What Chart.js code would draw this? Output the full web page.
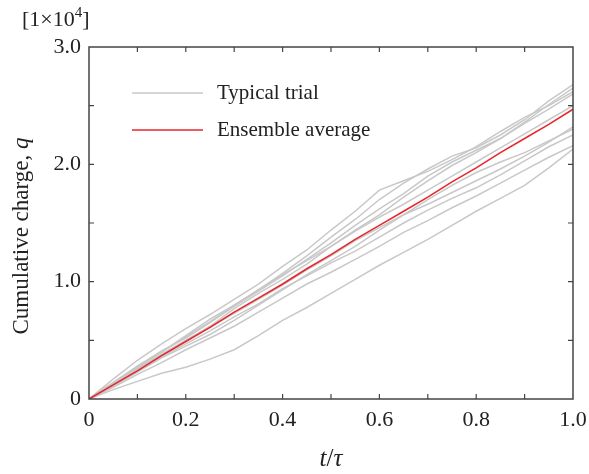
<!DOCTYPE html>
<html>
<head>
<meta charset="utf-8">
<script src="https://cdn.jsdelivr.net/npm/chart.js@4/dist/chart.umd.min.js"></script>
<style>
  html, body { margin: 0; padding: 0; background: #fff; }
  #wrap { width: 589px; height: 474px; }
</style>
</head>
<body>
<div id="wrap"><canvas id="myChart" width="589" height="474"></canvas></div>
<script>
// time axis, t/tau
const tValues = [0, 0.05, 0.1, 0.15, 0.2, 0.25, 0.3, 0.35, 0.4, 0.45, 0.5,
                 0.55, 0.6, 0.65, 0.7, 0.75, 0.8, 0.85, 0.9, 0.95, 1.0];

// typical trials (units of 1e4)
const trialA = [0, 0.17, 0.33, 0.47, 0.60, 0.72, 0.85, 0.98, 1.13, 1.27, 1.44, 1.60, 1.78, 1.86, 1.94, 2.04, 2.15, 2.28, 2.40, 2.50, 2.62];
const trialB = [0, 0.13, 0.27, 0.40, 0.54, 0.68, 0.80, 0.93, 1.07, 1.22, 1.38, 1.53, 1.70, 1.84, 1.96, 2.07, 2.14, 2.25, 2.38, 2.54, 2.68];
const trialC = [0, 0.14, 0.28, 0.41, 0.52, 0.65, 0.79, 0.92, 1.05, 1.19, 1.33, 1.48, 1.62, 1.75, 1.90, 2.02, 2.12, 2.22, 2.36, 2.51, 2.65];
const trialD = [0, 0.12, 0.25, 0.38, 0.50, 0.62, 0.77, 0.90, 1.02, 1.15, 1.30, 1.44, 1.57, 1.72, 1.86, 1.99, 2.10, 2.22, 2.35, 2.47, 2.60];
const trialE = [0, 0.13, 0.26, 0.38, 0.50, 0.61, 0.73, 0.85, 0.97, 1.10, 1.22, 1.35, 1.46, 1.57, 1.66, 1.76, 1.86, 1.96, 2.07, 2.19, 2.32];
const trialF = [0, 0.12, 0.24, 0.36, 0.47, 0.58, 0.70, 0.81, 0.94, 1.05, 1.16, 1.26, 1.38, 1.50, 1.61, 1.71, 1.80, 1.91, 2.03, 2.15, 2.25];
const trialG = [0, 0.10, 0.21, 0.31, 0.42, 0.52, 0.62, 0.74, 0.86, 0.98, 1.08, 1.19, 1.30, 1.42, 1.52, 1.63, 1.73, 1.84, 1.95, 2.06, 2.16];
const trialH = [0, 0.08, 0.15, 0.22, 0.27, 0.34, 0.42, 0.54, 0.67, 0.78, 0.90, 1.02, 1.14, 1.25, 1.36, 1.48, 1.60, 1.71, 1.82, 1.97, 2.13];
const trialI = [0, 0.14, 0.28, 0.40, 0.53, 0.66, 0.80, 0.93, 1.06, 1.18, 1.30, 1.43, 1.55, 1.66, 1.78, 1.90, 2.02, 2.14, 2.26, 2.38, 2.50];
const trialJ = [0, 0.11, 0.23, 0.35, 0.45, 0.55, 0.67, 0.80, 0.93, 1.06, 1.18, 1.30, 1.44, 1.57, 1.70, 1.82, 1.93, 2.02, 2.10, 2.20, 2.30];
const trials = [trialA, trialB, trialC, trialD, trialE, trialF, trialG, trialH, trialI, trialJ];

// ensemble average
const ensembleAvg = [0, 0.12, 0.24, 0.37, 0.49, 0.61, 0.74, 0.86, 0.98, 1.11, 1.23, 1.36, 1.48, 1.60, 1.72, 1.85, 1.97, 2.10, 2.22, 2.34, 2.47];

const xTickLabels = ['0', '0.2', '0.4', '0.6', '0.8', '1.0'];
const yTickLabels = ['0', '1.0', '2.0', '3.0'];

const serif = '"Liberation Serif", "DejaVu Serif", serif';
const gray = '#c8c8c8';
const red = '#e8262c';
const axisColor = '#444';

const toPoints = (arr) => arr.map((v, i) => ({ x: tValues[i], y: v }));

const datasets = [];
datasets.push({
  label: 'Ensemble average',
  data: toPoints(ensembleAvg),
  borderColor: red,
  borderWidth: 1.6,
  pointRadius: 0,
  tension: 0,
  order: 0
});
trials.forEach((arr, i) => {
  datasets.push({
    label: 'Typical trial ' + (i + 1),
    data: toPoints(arr),
    borderColor: gray,
    borderWidth: 1.5,
    pointRadius: 0,
    tension: 0,
    order: 1
  });
});

// frame, inward ticks on all sides, titles and legend
const decorations = {
  id: 'decorations',
  afterDraw(chart) {
    const ctx = chart.ctx;
    const a = chart.chartArea;
    const xs = chart.scales.x;
    const ys = chart.scales.y;
    ctx.save();
    ctx.strokeStyle = axisColor;
    ctx.lineWidth = 1.5;
    ctx.strokeRect(a.left, a.top, a.right - a.left, a.bottom - a.top);

    ctx.lineWidth = 1.2;
    const tickLen = 5;
    for (let i = 1; i < 10; i++) {
      const px = xs.getPixelForValue(i / 10);
      ctx.beginPath();
      ctx.moveTo(px, a.bottom); ctx.lineTo(px, a.bottom - tickLen);
      ctx.moveTo(px, a.top); ctx.lineTo(px, a.top + tickLen);
      ctx.stroke();
    }
    for (let i = 1; i < 6; i++) {
      const py = ys.getPixelForValue(i * 0.5);
      ctx.beginPath();
      ctx.moveTo(a.left, py); ctx.lineTo(a.left + tickLen, py);
      ctx.moveTo(a.right, py); ctx.lineTo(a.right - tickLen, py);
      ctx.stroke();
    }

    ctx.fillStyle = '#222';
    ctx.textBaseline = 'alphabetic';

    // exponent note
    ctx.font = '22px ' + serif;
    ctx.textAlign = 'left';
    let x0 = 22;
    ctx.fillText('[1\u00d710', x0, 26);
    x0 += ctx.measureText('[1\u00d710').width;
    ctx.font = '15px ' + serif;
    ctx.fillText('4', x0, 17);
    x0 += ctx.measureText('4').width;
    ctx.font = '22px ' + serif;
    ctx.fillText(']', x0, 26);

    // x title t/tau
    const cx = (a.left + a.right) / 2;
    ctx.font = 'italic 25px ' + serif;
    const wt = ctx.measureText('t').width;
    ctx.font = '25px ' + serif;
    const ws = ctx.measureText('/').width;
    ctx.font = 'italic 25px ' + serif;
    const wtau = ctx.measureText('\u03c4').width;
    let xx = cx - (wt + ws + wtau) / 2;
    ctx.fillText('t', xx, 466);
    xx += wt;
    ctx.font = '25px ' + serif;
    ctx.fillText('/', xx, 466);
    xx += ws;
    ctx.font = 'italic 25px ' + serif;
    ctx.fillText('\u03c4', xx, 466);

    // y title
    ctx.save();
    ctx.translate(28, 236);
    ctx.rotate(-Math.PI / 2);
    ctx.font = '23px ' + serif;
    const part1 = 'Cumulative charge, ';
    const w1 = ctx.measureText(part1).width;
    ctx.font = 'italic 23px ' + serif;
    const w2 = ctx.measureText('q').width;
    let yx = -(w1 + w2) / 2;
    ctx.font = '23px ' + serif;
    ctx.fillText(part1, yx, 0);
    ctx.font = 'italic 23px ' + serif;
    ctx.fillText('q', yx + w1, 0);
    ctx.restore();

    // legend
    ctx.lineWidth = 1.5;
    ctx.strokeStyle = gray;
    ctx.beginPath(); ctx.moveTo(132, 93); ctx.lineTo(203, 93); ctx.stroke();
    ctx.strokeStyle = red;
    ctx.lineWidth = 1.6;
    ctx.beginPath(); ctx.moveTo(132, 130); ctx.lineTo(203, 130); ctx.stroke();
    ctx.font = '21px ' + serif;
    ctx.textBaseline = 'middle';
    ctx.fillText('Typical trial', 217, 93);
    ctx.fillText('Ensemble average', 217, 130);
    ctx.restore();
  }
};

new Chart(document.getElementById('myChart').getContext('2d'), {
  type: 'line',
  data: { datasets: datasets },
  options: {
    responsive: false,
    animation: false,
    layout: { autoPadding: false, padding: { left: 29, right: 16, top: 47, bottom: 30 } },
    plugins: { legend: { display: false }, tooltip: { enabled: false } },
    scales: {
      x: {
        type: 'linear',
        min: 0,
        max: 1,
        grid: { display: false, drawTicks: false },
        border: { display: false },
        afterFit: (s) => { s.height = 45; s.paddingLeft = 0; s.paddingRight = 0; },
        ticks: {
          stepSize: 0.2,
          padding: 8,
          maxRotation: 0,
          color: '#222',
          font: { family: serif, size: 22 },
          callback: (v) => xTickLabels[Math.round(v * 5)]
        }
      },
      y: {
        min: 0,
        max: 3,
        grid: { display: false, drawTicks: false },
        border: { display: false },
        afterFit: (s) => { s.width = 60; s.paddingTop = 0; s.paddingBottom = 0; },
        ticks: {
          stepSize: 1,
          padding: 8,
          color: '#222',
          font: { family: serif, size: 22 },
          callback: (v) => yTickLabels[Math.round(v)]
        }
      }
    }
  },
  plugins: [decorations]
});
</script>
</body>
</html>
